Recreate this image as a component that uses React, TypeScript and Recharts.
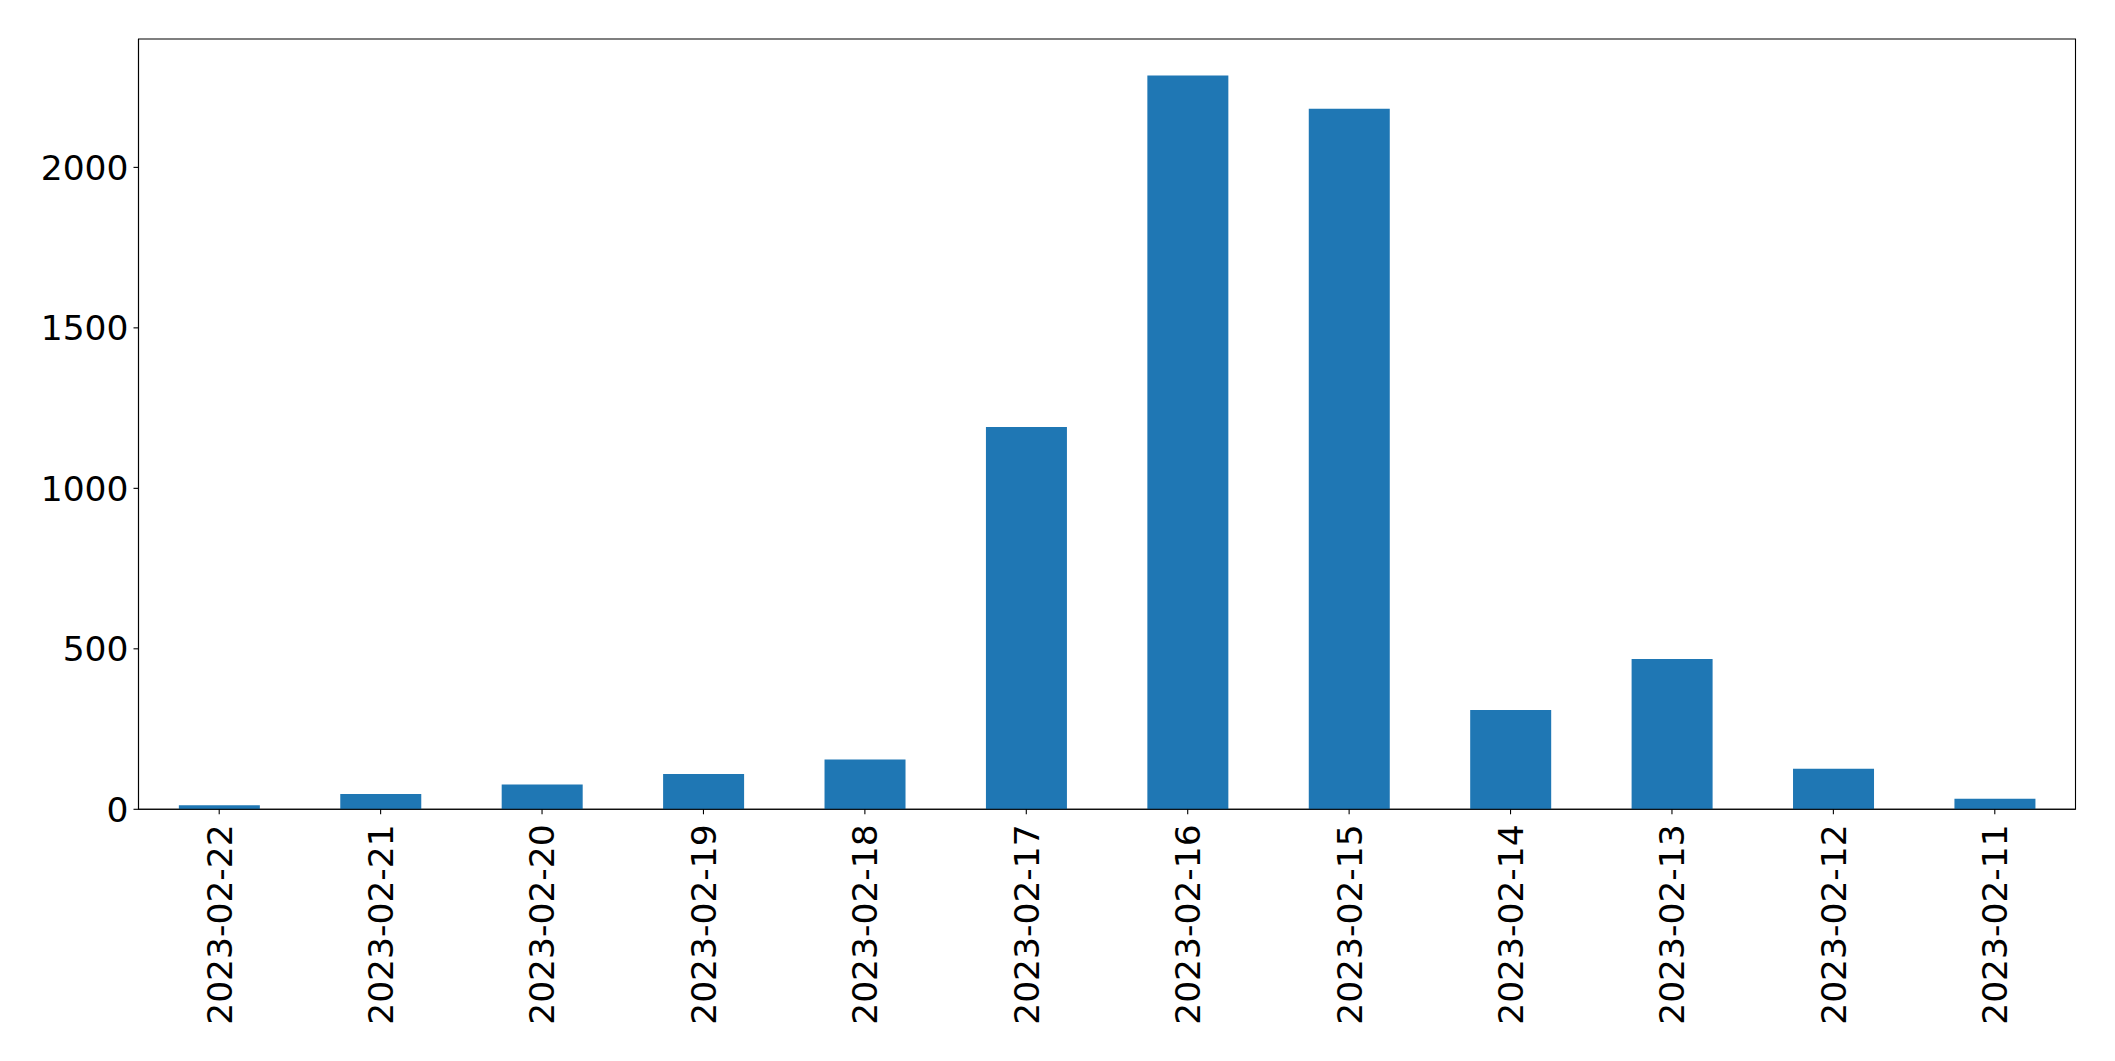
import { BarChart, Bar, XAxis, YAxis, ReferenceArea } from "recharts";

const dates = [
  "2023-02-22",
  "2023-02-21",
  "2023-02-20",
  "2023-02-19",
  "2023-02-18",
  "2023-02-17",
  "2023-02-16",
  "2023-02-15",
  "2023-02-14",
  "2023-02-13",
  "2023-02-12",
  "2023-02-11",
];
const counts = [13, 48, 77, 110, 155, 1191, 2286, 2183, 309, 468, 126, 33];
const yTicks = [0, 500, 1000, 1500, 2000];

const FONT = "DejaVu Sans";
const FS = 34.5;

const DateTick = (props: any) => {
  const { x, y, payload } = props;
  return (
    <text
      x={x}
      y={y}
      transform={`rotate(-90, ${x}, ${y})`}
      textAnchor="end"
      dy="0.36em"
      fontSize={FS}
      fontFamily={FONT}
      fill="#000"
    >
      {payload.value}
    </text>
  );
};

const App = () => {
  const data = dates.map((d, i) => ({ date: d, count: counts[i] }));

  return (
    <BarChart
      width={2090}
      height={1045}
      data={data}
      barCategoryGap="25%"
      margin={{ top: 31, right: 22.5, left: 0, bottom: 0 }}
    >
      <XAxis
        dataKey="date"
        interval={0}
        height={243.7}
        tick={<DateTick />}
        tickSize={5}
        tickMargin={10}
        axisLine={{ stroke: "#000", strokeWidth: 1.1 }}
        tickLine={{ stroke: "#000", strokeWidth: 1.1 }}
      />
      <YAxis
        domain={[0, 2400]}
        ticks={yTicks}
        width={130.5}
        tickSize={5}
        tickMargin={5}
        tick={{ fontSize: FS, fontFamily: FONT, fill: "#000" }}
        axisLine={{ stroke: "#000", strokeWidth: 1.1 }}
        tickLine={{ stroke: "#000", strokeWidth: 1.1 }}
      />
      <Bar dataKey="count" fill="#1f77b4" isAnimationActive={false} />
      {/* frame round the plot, like matplotlib spines */}
      <ReferenceArea y1={0} y2={2400} fill="none" stroke="#000" strokeWidth={1.1} />
    </BarChart>
  );
};

export default App;
